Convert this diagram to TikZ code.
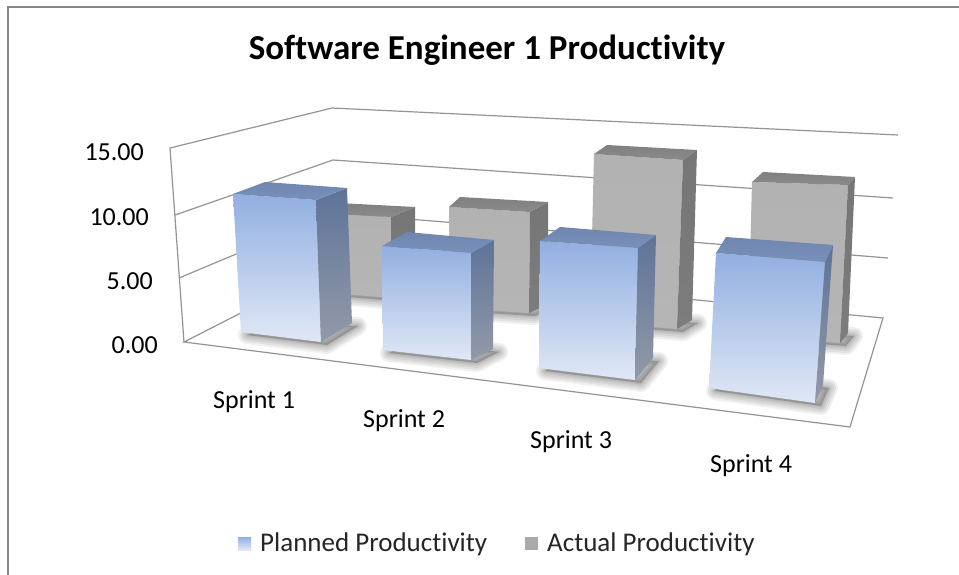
\documentclass[tikz,border=0pt]{standalone}
\usepackage{fontspec}
\setmainfont{Carlito}[Ligatures={NoCommon}]
\definecolor{bft}{RGB}{146,175,225}
\definecolor{bfb}{RGB}{224,232,246}
\definecolor{bst}{RGB}{94,115,152}
\definecolor{bsb}{RGB}{146,154,168}
\definecolor{btt}{RGB}{110,134,176}
\definecolor{btb}{RGB}{120,144,186}
\definecolor{gft}{RGB}{178,178,178}
\definecolor{gfb}{RGB}{181,181,181}
\definecolor{gst}{RGB}{118,118,118}
\definecolor{gsb}{RGB}{124,124,124}
\definecolor{gtt}{RGB}{128,128,128}
\definecolor{gtb}{RGB}{138,138,138}
\definecolor{legg}{RGB}{170,170,170}
\begin{document}
\begin{tikzpicture}[x=1pt,y=-1pt,
  frameline/.style={draw=black!42,line width=1.2pt},
  bluefront/.style={top color=bft,bottom color=bfb},
  blueside/.style={top color=bst,bottom color=bsb},
  bluetop/.style={top color=btt,bottom color=btb},
  grayfront/.style={top color=gft,bottom color=gfb},
  grayside/.style={top color=gst,bottom color=gsb},
  graytop/.style={top color=gtt,bottom color=gtb},
  axlabel/.style={font=\fontsize{26}{28}\selectfont,inner sep=0pt},
  catlabel/.style={font=\fontsize{26}{28}\selectfont,inner sep=0pt,anchor=base west},
  leglabel/.style={font=\fontsize{27}{30}\selectfont,inner sep=0pt,anchor=base west,text=black!85},
]
\useasboundingbox (0,0) rectangle (959,575);
\fill[white] (0,0) rectangle (959,575);
% chart border
\coordinate (bTR) at (959,7);
\coordinate (bTL) at (8,7);
\coordinate (bBL) at (8,575);
\draw[draw=black!47,line width=2.4pt] (bTR) -- (bTL) -- (bBL);

% title
\node[font=\bfseries\fontsize{35}{38}\selectfont,anchor=base,inner sep=0pt] (title) at (487,60) {Software Engineer 1 Productivity};

% frame corners
\coordinate (FLT) at (170,148);
\coordinate (FLB) at (184,342);
\coordinate (BLT) at (332,108);
\coordinate (BLB) at (335,265);
\coordinate (BRT) at (898,135);
\coordinate (BRB) at (883,318);
\coordinate (FRB) at (850,427);
\coordinate (L10a) at (175,215); \coordinate (L10b) at (333,160);
\coordinate (L5a) at (179,278);  \coordinate (L5b) at (334,213);
\coordinate (R10) at (893,198);
\coordinate (R5) at (888,258);

\draw[frameline] (FLB) -- (FLT) -- (BLT) -- (BRT);
\draw[frameline] (L10a) -- (L10b) -- (R10);
\draw[frameline] (L5a) -- (L5b) -- (R5);
\draw[frameline] (FLB) -- (BLB) -- (BRB) -- (FRB) -- cycle;

% axis labels
\node[axlabel,anchor=east] (y15) at (144,152) {15.00};
\node[axlabel,anchor=east] (y10) at (149,217) {10.00};
\node[axlabel,anchor=east] (y5)  at (153,281) {5.00};
\node[axlabel,anchor=east] (y0)  at (158,345) {0.00};

% shadow macro: #1 FBL #2 FBR #3 BBR #4 BBL
\newcommand\colshadow[4]{%
  \begin{scope}[shift={(6,3)}]
  \foreach \w in {18,14,10,6,3}{
    \draw[black,opacity=0.06,line width=\w pt,line join=round] #1 -- #2 -- #3 -- #4 -- cycle;
    }
  \fill[black,opacity=0.2] #1 -- #2 -- #3 -- #4 -- cycle;
  \end{scope}}
% bar macro: #1 colour prefix, #2 FTL #3 FTR #4 FBR #5 FBL #6 BTL #7 BTR #8 BBR
\newcommand\colbar[8]{%
  \shade[#1front] #2 -- #3 -- #4 -- #5 -- cycle;
  \shade[#1side] #3 -- #7 -- #8 -- #4 -- cycle;
  \shade[#1top] #2 -- #6 -- #7 -- #3 -- cycle;}

% back row (actual)
\colshadow{(318,292)}{(391,298)}{(415,289)}{(340,282)}
\colbar{gray}{(316,213)}{(391,217)}{(391,298)}{(318,292)}{(338,203)}{(415,207)}{(415,289)}
\colshadow{(451,308)}{(529,313)}{(548,304)}{(462,298)}
\colbar{gray}{(449,207)}{(530,212)}{(529,313)}{(451,308)}{(460,197)}{(548,202)}{(548,304)}
\colshadow{(590,322)}{(677,329)}{(692,320)}{(603,313)}
\colbar{gray}{(594,154)}{(683,160)}{(677,329)}{(590,322)}{(607,145)}{(697,150)}{(692,320)}
\colshadow{(748,336)}{(840,343)}{(848,333)}{(759,326)}
\colbar{gray}{(752,182)}{(848,185)}{(840,343)}{(748,336)}{(763,172)}{(855,177)}{(848,333)}

% front row (planned)
\colshadow{(241,332)}{(321,342)}{(352,323)}{(273,320)}
\colbar{blue}{(233,194)}{(316,200)}{(321,342)}{(241,332)}{(265,182)}{(347,188)}{(352,323)}
\colshadow{(383,350)}{(471,360)}{(493,349)}{(408,336)}
\colbar{blue}{(382,246)}{(471,253)}{(471,360)}{(383,350)}{(407,232)}{(494,240)}{(493,349)}
\colshadow{(539,368)}{(635,380)}{(653,358)}{(559,354)}
\colbar{blue}{(540,241)}{(638,248)}{(635,380)}{(539,368)}{(560,227)}{(656,235)}{(653,358)}
\colshadow{(709,388)}{(815,403)}{(823,385)}{(719,372)}
\colbar{blue}{(716,253)}{(825,262)}{(815,403)}{(709,388)}{(726,237)}{(833,245)}{(823,385)}

% category labels
\node[catlabel] (s1) at (213,408) {Sprint 1};
\node[catlabel] (s2) at (363,427) {Sprint 2};
\node[catlabel] (s3) at (530,448) {Sprint 3};
\node[catlabel] (s4) at (710,472) {Sprint 4};

% legend
\shade[bluefront] (238,537) rectangle (251,550);
\node[inner sep=0pt,minimum size=0pt] (legb) at (244.5,543.5) {};
\node[leglabel] (legbt) at (260,551) {Planned Productivity};
\fill[legg] (525,537) rectangle (538,550);
\node[inner sep=0pt,minimum size=0pt] (leggs) at (531.5,543.5) {};
\node[leglabel] (leggt) at (547,551) {Actual Productivity};
\end{tikzpicture}
\end{document}
